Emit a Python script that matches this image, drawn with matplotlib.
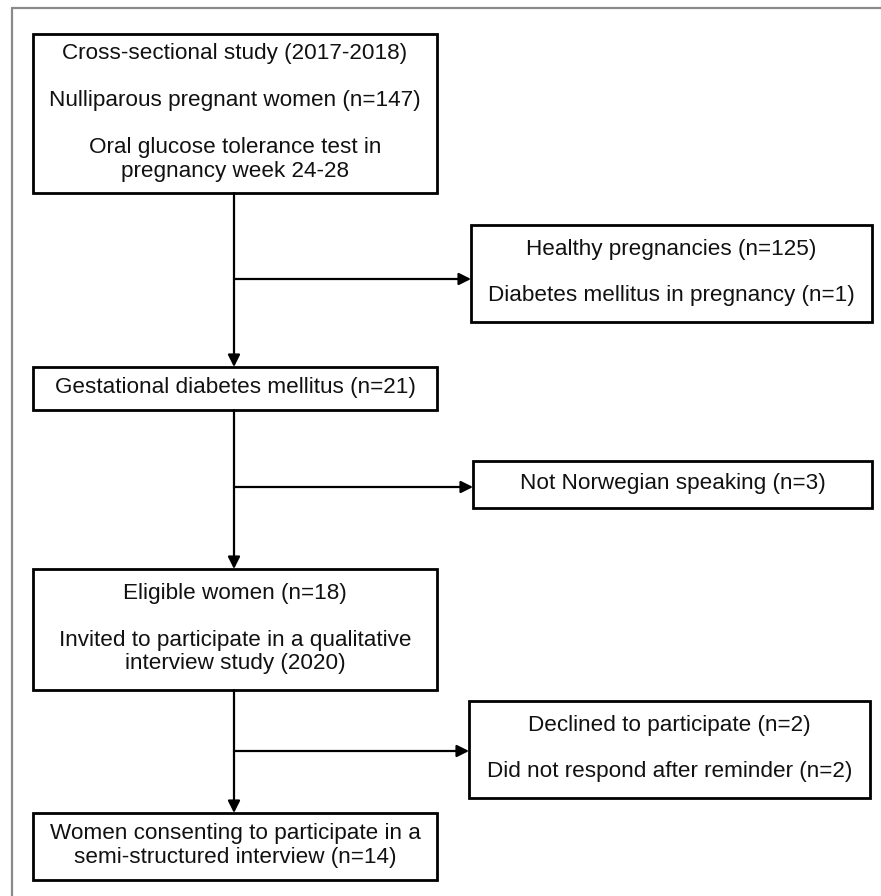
import matplotlib.pyplot as plt
from matplotlib.patches import Rectangle

plt.rcParams['font.family'] = ['Liberation Sans', 'DejaVu Sans']

# box texts (main column, then side boxes)
main_texts = [
    "Cross-sectional study (2017-2018)\n\nNulliparous pregnant women (n=147)\n\n"
    "Oral glucose tolerance test in\npregnancy week 24-28",
    "Gestational diabetes mellitus (n=21)",
    "Eligible women (n=18)\n\nInvited to participate in a qualitative\ninterview study (2020)",
    "Women consenting to participate in a\nsemi-structured interview (n=14)",
]
side_texts = [
    "Healthy pregnancies (n=125)\n\nDiabetes mellitus in pregnancy (n=1)",
    "Not Norwegian speaking (n=3)",
    "Declined to participate (n=2)\n\nDid not respond after reminder (n=2)",
]

# layout in pixels (x0, y0 top, x1, y1 bottom)
main_boxes = [(33, 34, 437, 193), (33, 367, 437, 410), (33, 569, 437, 690), (33, 813, 437, 880)]
side_boxes = [(471, 225, 872, 322), (473, 461, 872, 508), (469, 701, 870, 798)]
branch_y = [279, 487, 751]
spine_x = 234

W, H = 881, 896
fig = plt.figure(figsize=(W / 100, H / 100), dpi=100)
ax = fig.add_axes([0, 0, 1, 1])
ax.set_xlim(0, W)
ax.set_ylim(H, 0)
ax.axis('off')

# outer frame (top and left only)
ax.plot([11, W], [8.5, 8.5], color='#8a8a8a', lw=1.6, solid_capstyle='butt')
ax.plot([11.5, 11.5], [8, H], color='#8a8a8a', lw=1.6, solid_capstyle='butt')

fs = 16.2


def draw_box(box, text):
    x0, y0, x1, y1 = box
    ax.add_patch(Rectangle((x0, y0), x1 - x0, y1 - y0, fill=False, ec='black', lw=2.0))
    ax.text((x0 + x1) / 2, (y0 + y1) / 2 - 1, text, ha='center', va='center',
            fontsize=fs, color='#111111', linespacing=1.15, multialignment='center')


for b, t in zip(main_boxes, main_texts):
    draw_box(b, t)
for b, t in zip(side_boxes, side_texts):
    draw_box(b, t)

arrow = dict(arrowstyle='-|>', lw=1.6, color='black', mutation_scale=18,
             shrinkA=0, shrinkB=0)

# vertical connectors with branches to side boxes
for i in range(3):
    top = main_boxes[i][3]
    bottom = main_boxes[i + 1][1]
    ax.annotate('', xy=(spine_x, bottom), xytext=(spine_x, top), arrowprops=arrow)
    ax.annotate('', xy=(side_boxes[i][0], branch_y[i]), xytext=(spine_x, branch_y[i]),
                arrowprops=arrow)

fig.savefig('out.png', dpi=100)
